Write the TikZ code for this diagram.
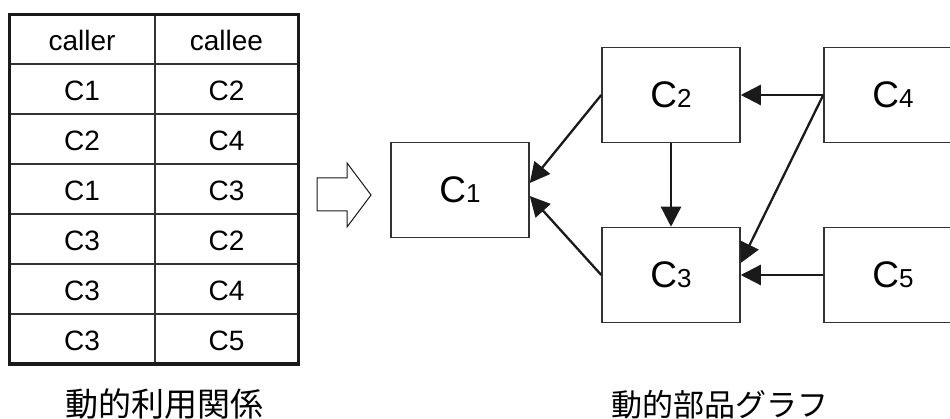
\documentclass[tikz,border=0pt]{standalone}
\usepackage{fontspec}
\setmainfont{Liberation Sans}
\newfontfamily\cjk{Noto Sans CJK JP}
\usetikzlibrary{arrows.meta}
\definecolor{boxline}{HTML}{333333}
\definecolor{arrowc}{HTML}{1A1A1A}
\begin{document}
\begin{tikzpicture}[x=1pt,y=-1pt,
  tabout/.style={line width=3pt,draw=arrowc},
  tabin/.style={line width=1.4pt,draw=boxline},
  celltext/.style={anchor=base,inner sep=0pt,font=\fontsize{28}{28}\selectfont},
  gbox/.style={draw=boxline,line width=1.5pt,minimum width=138pt,minimum height=95pt,inner sep=0pt,font=\fontsize{37}{37}\selectfont},
  conn/.style={draw=arrowc,line width=2.3pt,-{Triangle[length=20pt,width=20pt]}},
  hollow/.style={draw=arrowc,line width=1pt,fill=white},
  caption/.style={anchor=base,inner sep=0pt}
]
\clip (0,0) rectangle (950,419);
\fill[white] (0,0) rectangle (950,419);
% table
\foreach \yy in {64,114,164,214,264,314}
  \draw[tabin] (9,\yy) -- (298,\yy);
\draw[tabin] (155,15) -- (155,364);
\draw[tabout] (9,15) rectangle (298,364);
\foreach \a/\b [count=\i] in {caller/callee,C1/C2,C2/C4,C1/C3,C3/C2,C3/C4,C3/C5}{
  \node[celltext] (l\i) at (82,{1+50*\i}) {\a};
  \node[celltext] (r\i) at (226.5,{1+50*\i}) {\b};
}
% hollow arrow
\draw[hollow] (317,178) -- (347,178) -- (347,163) -- (371,195) -- (347,227) -- (347,211) -- (317,211) -- cycle;
% graph
\newcommand{\dg}[1]{{\fontsize{26}{26}\selectfont #1}}
\node[gbox] (n1) at (460,190) {C\dg{1}};
\node[gbox] (n2) at (671,95) {C\dg{2}};
\node[gbox] (n3) at (671,275) {C\dg{3}};
\node[gbox] (n4) at (893,95) {C\dg{4}};
\node[gbox] (n5) at (893,275) {C\dg{5}};
\coordinate (n1a) at ([yshift=7pt]n1.east);
\coordinate (n1b) at ([yshift=-6pt]n1.east);
\coordinate (n3a) at ([yshift=12pt]n3.east);
\draw[conn] (n2.west) -- (n1a);
\draw[conn] (n3.west) -- (n1b);
\draw[conn] (n2.south) -- (n3.north);
\draw[conn] (n4.west) -- (n2.east);
\draw[conn] (n4.west) -- (n3a);
\draw[conn] (n5.west) -- (n3.east);
% captions
\node[caption,font=\cjk\fontsize{33}{33}\selectfont] (cap1) at (164,416) {動的利用関係};
\node[caption,font=\cjk\fontsize{31}{31}\selectfont] (cap2) at (720,416) {動的部品グラフ};
\end{tikzpicture}
\end{document}
